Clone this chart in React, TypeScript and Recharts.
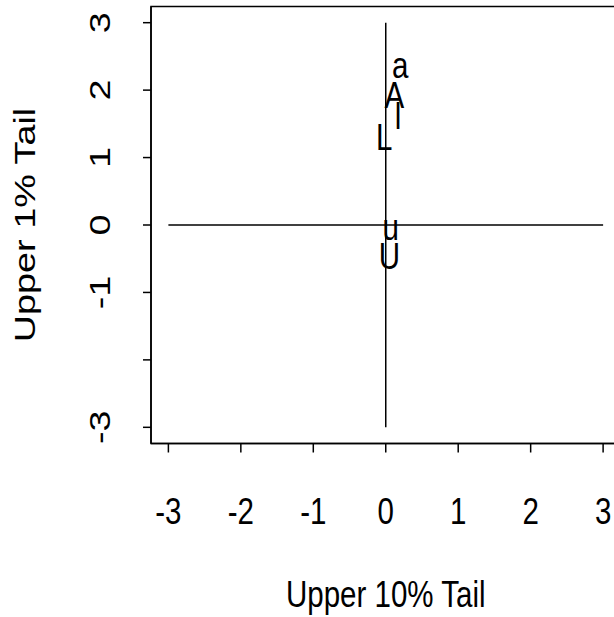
import React from "react";
import {
  ScatterChart,
  Scatter,
  XAxis,
  YAxis,
  ReferenceLine,
  ReferenceArea,
} from "recharts";

// ---- data ----
const xTicks = [-3, -2, -1, 0, 1, 2, 3];
const xTickLabels = ["-3", "-2", "-1", "0", "1", "2", "3"];
const yTicks = [-3, -2, -1, 0, 1, 2, 3];
const yTickLabels = ["-3", "", "-1", "0", "1", "2", "3"];
const pointLabels = ["a", "A", "l", "L", "u", "U"];
const xValues = [0.2, 0.12, 0.17, -0.02, 0.07, 0.05];
const yValues = [2.33, 1.93, 1.63, 1.31, -0.08, -0.45];
const axisMin = -3.24;
const axisMax = 3.24;
const xTitle = "Upper 10% Tail";
const yTitle = "Upper 1% Tail";

const data = pointLabels.map((label, i) => ({
  label,
  x: xValues[i],
  y: yValues[i],
}));

// ---- style ----
const FONT = "'Liberation Sans', Arial, Helvetica, sans-serif";
const FS = 29.5;
const SY = 1.28;
const LW = 1.5;

const XTick = (props: any) => {
  const { x, y, payload, index } = props;
  const i = xTicks.indexOf(payload.value);
  return (
    <text
      transform={`translate(${x},${y + 71.5}) scale(1,${SY})`}
      textAnchor="middle"
      fontFamily={FONT}
      fontSize={FS}
      fill="#000"
    >
      {i >= 0 ? xTickLabels[i] : String(payload.value)}
    </text>
  );
};

const YTick = (props: any) => {
  const { x, y, payload } = props;
  const i = yTicks.indexOf(payload.value);
  const s = i >= 0 ? yTickLabels[i] : String(payload.value);
  if (!s) return <g />;
  return (
    <text
      transform={`translate(${x - 33.5},${y}) scale(1,${SY}) rotate(-90)`}
      textAnchor="middle"
      fontFamily={FONT}
      fontSize={FS}
      fill="#000"
    >
      {s}
    </text>
  );
};

const XTitle = (props: any) => {
  const vb = props.viewBox || {};
  const cx = vb.x + vb.width / 2;
  const by = vb.y + 163.5;
  return (
    <text
      transform={`translate(${cx},${by}) scale(1,${SY})`}
      textAnchor="middle"
      fontFamily={FONT}
      fontSize={FS}
      fill="#000"
    >
      {xTitle}
    </text>
  );
};

const YTitle = (props: any) => {
  const vb = props.viewBox || {};
  const bx = vb.x + 35;
  const cy = vb.y + vb.height / 2;
  return (
    <text
      transform={`translate(${bx},${cy}) scale(1,${SY}) rotate(-90)`}
      textAnchor="middle"
      fontFamily={FONT}
      fontSize={FS}
      fill="#000"
    >
      {yTitle}
    </text>
  );
};

const LetterShape = (props: any) => {
  const { cx, cy, payload } = props;
  const s: string = payload.label;
  const lower = s === s.toLowerCase() && s !== "l";
  return (
    <text
      transform={`translate(${cx},${cy}) scale(1,${SY})`}
      dy={lower ? "0.26em" : "0.358em"}
      textAnchor="middle"
      fontFamily={FONT}
      fontSize={FS}
      fill="#000"
    >
      {s}
    </text>
  );
};

export default function App() {
  return (
    <div
      style={{
        position: "absolute",
        left: 0,
        top: 0,
        width: 614,
        height: 617,
        overflow: "hidden",
        background: "#fff",
      }}
    >
      <ScatterChart
        width={625}
        height={617}
        margin={{ top: 6.5, right: 4.5, bottom: 0, left: 0 }}
      >
        <XAxis
          type="number"
          dataKey="x"
          domain={[axisMin, axisMax]}
          ticks={xTicks}
          allowDataOverflow
          height={173.5}
          tickSize={9}
          tickMargin={0}
          interval={0}
          axisLine={{ stroke: "#000", strokeWidth: LW }}
          tickLine={{ stroke: "#000", strokeWidth: LW }}
          tick={<XTick />}
          label={{ value: xTitle, content: (p: any) => <XTitle {...p} /> }}
        />
        <YAxis
          type="number"
          dataKey="y"
          domain={[axisMin, axisMax]}
          ticks={yTicks}
          allowDataOverflow
          width={151}
          tickSize={8}
          tickMargin={0}
          interval={0}
          axisLine={{ stroke: "#000", strokeWidth: LW }}
          tickLine={{ stroke: "#000", strokeWidth: LW }}
          tick={<YTick />}
          label={{ value: yTitle, content: (p: any) => <YTitle {...p} /> }}
        />
        <ReferenceArea
          x1={axisMin}
          x2={axisMax}
          y1={axisMin}
          y2={axisMax}
          fill="none"
          stroke="#000"
          strokeWidth={LW}
          ifOverflow="visible"
        />
        <ReferenceLine
          segment={[
            { x: 0, y: -3 },
            { x: 0, y: 3 },
          ]}
          stroke="#000"
          strokeWidth={LW}
          ifOverflow="visible"
        />
        <ReferenceLine
          segment={[
            { x: -3, y: 0 },
            { x: 3, y: 0 },
          ]}
          stroke="#000"
          strokeWidth={LW}
          ifOverflow="visible"
        />
        <Scatter
          data={data}
          isAnimationActive={false}
          shape={(p: any) => <LetterShape {...p} />}
        />
      </ScatterChart>
    </div>
  );
}
